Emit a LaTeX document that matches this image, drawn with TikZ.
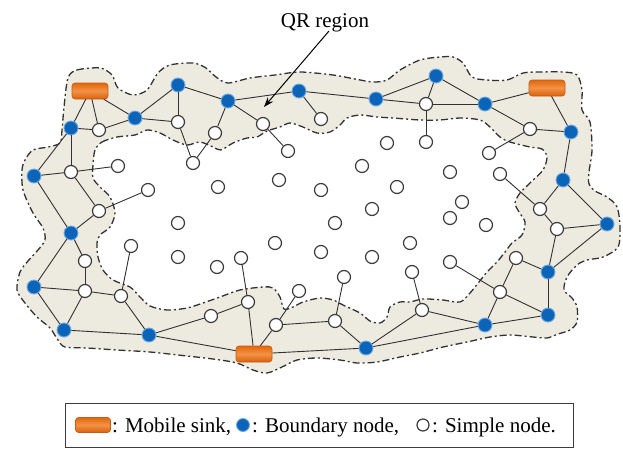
\documentclass[tikz,border=0pt]{standalone}
\usepackage{fontspec}
\setmainfont{Liberation Serif}
\usetikzlibrary{arrows.meta}
\definecolor{bandfill}{RGB}{237,234,223}
\definecolor{qrgray}{RGB}{50,50,50}
\definecolor{linkgray}{RGB}{50,50,50}
\definecolor{nodegray}{RGB}{60,60,60}
\definecolor{bnblue}{RGB}{12,100,184}
\definecolor{bnhalo}{RGB}{110,170,225}
\definecolor{sinktop}{RGB}{226,104,12}
\definecolor{sinkmid}{RGB}{243,146,70}
\definecolor{sinkbot}{RGB}{214,96,10}
\definecolor{sinkedge}{RGB}{200,90,20}
\tikzset{
  simple/.style={circle, draw=nodegray, line width=1.2pt, fill=white, minimum size=13pt, inner sep=0pt},
  boundary/.style={circle, fill=bnblue, draw=bnhalo, line width=0.9pt, minimum size=14pt, inner sep=0pt},
  sinknode/.style={rectangle, rounded corners=3pt, minimum width=36pt, minimum height=16pt, inner sep=0pt,
    draw=sinkedge, line width=0.6pt, top color=sinktop, bottom color=sinkbot, middle color=sinkmid},
  link/.style={draw=linkgray, line width=0.9pt},
  qrline/.style={draw=qrgray, line width=1.3pt, dash pattern=on 7pt off 3pt on 2pt off 3pt},
  txt/.style={inner sep=0pt, font=\fontsize{21}{25}\selectfont},
}
\begin{document}
\begin{tikzpicture}[x=1pt,y=-1pt]
\useasboundingbox (0,0) rectangle (623,450);

% QR band between the outer and inner borders
\def\outerpts{(68,78) (77,70) (100,68) (112,75) (118,88) (133,95) (147,90) (158,73) (170,65) (193,63) (206,68) (216,77) (228,83) (250,78) (275,75) (300,72) (333,75) (355,79) (373,82) (387,80) (400,70) (420,60) (440,57) (453,57) (463,63) (472,77) (487,80) (507,80) (523,73) (540,72) (563,72) (577,75) (582,90) (582,110) (590,122) (592,150) (589,172) (589,184) (595,191) (607,197) (617,207) (620,227) (618,247) (603,257) (587,260) (577,265) (567,277) (564,290) (572,298) (577,307) (577,322) (570,330) (558,334) (547,338) (533,337) (510,335) (490,337) (467,342) (443,347) (420,353) (400,357) (377,362) (357,363) (340,360) (317,358) (297,360) (282,367) (267,373) (253,370) (237,363) (213,359) (187,356) (150,352) (117,350) (87,348) (65,347) (58,340) (50,328) (37,317) (25,303) (17,290) (20,272) (28,261) (38,250) (45,240) (43,228) (33,213) (23,190) (22,170) (25,160) (33,150) (48,147) (60,143) (62,130) (64,107)}
\def\innerpts{(95,150) (102,142) (117,137) (135,135) (147,130) (160,133) (173,140) (187,145) (200,142) (213,147) (221,150) (233,143) (247,138) (257,137) (267,131) (280,127) (290,123) (303,127) (317,133) (330,132) (340,125) (347,118) (360,115) (377,117) (393,118) (420,120) (440,120) (460,118) (480,120) (490,127) (500,137) (510,142) (530,147) (542,149) (547,157) (543,170) (530,183) (520,193) (515,203) (519,212) (525,222) (522,235) (512,243) (505,252) (497,262) (487,272) (479,282) (470,293) (460,302) (443,300) (423,299) (410,302) (400,302) (390,307) (387,317) (380,323) (370,321) (360,313) (343,305) (333,300) (320,298) (303,302) (293,307) (284,309) (280,297) (273,288) (263,287) (240,290) (220,297) (203,303) (187,308) (167,310) (150,306) (140,297) (130,287) (113,280) (103,270) (98,257) (97,243) (100,235) (110,227) (115,213) (110,197) (100,187) (93,178) (93,165)}
\fill[bandfill, even odd rule] plot[smooth cycle] coordinates \outerpts plot[smooth cycle] coordinates \innerpts;
\draw[qrline] plot[smooth cycle] coordinates \outerpts;
\draw[qrline] plot[smooth cycle] coordinates \innerpts;

% mobile sinks
\node[sinknode] (s1) at (90,91) {};
\node[sinknode] (s2) at (547,88) {};
\node[sinknode] (s3) at (254,354) {};

% boundary nodes
\foreach \n/\p in {b1/{178,85}, b2/{228,101}, b3/{299,91}, b4/{376,99}, b5/{436,76}, b6/{485,104},
  b7/{571,132}, b8/{563,180}, b9/{607,224}, b10/{548,272}, b11/{548,315}, b12/{485,325},
  b13/{366,348}, b14/{149,335}, b15/{64,330}, b16/{34,287}, b17/{71,233}, b18/{34,176},
  b19/{71,128}, b20/{135,118}}
  \node[boundary] (\n) at (\p) {};

% simple nodes
\foreach \n/\p in {w1/{99,130}, w2/{178,122}, w3/{215,133}, w4/{263,124}, w5/{321,119}, w6/{426,104},
  w7/{530,129}, w8/{71,172}, w9/{118,166}, w10/{193,163}, w11/{288,151}, w12/{387,143},
  w13/{426,142}, w14/{362,166}, w15/{489,153}, w16/{450,172}, w17/{500,174}, w18/{148,190},
  w19/{218,187}, w20/{279,180}, w21/{321,190}, w22/{397,187}, w23/{99,211}, w24/{372,209},
  w25/{462,202}, w26/{540,209}, w27/{178,223}, w28/{335,223}, w29/{450,218}, w30/{486,225},
  w31/{557,229}, w32/{131,246}, w33/{275,243}, w34/{321,252}, w35/{410,243}, w36/{178,257},
  w37/{241,258}, w38/{372,257}, w39/{217,267}, w40/{85,261}, w41/{450,262}, w42/{516,258},
  w43/{412,272}, w44/{344,277}, w45/{85,291}, w46/{121,296}, w47/{299,291}, w48/{500,292},
  w49/{248,302}, w50/{211,316}, w51/{276,325}, w52/{335,321}, w53/{422,310}}
  \node[simple] (\n) at (\p) {};

% links
\foreach \a/\b in {s1/b19, s1/w1, s1/b20, b19/w1, w1/b20, b19/b18, b19/w8,
  b20/w2, b20/b1, b1/w2, b1/b2, w2/w10, b2/w3, w3/w10, b2/w4, b2/b3, w4/w11,
  b3/w5, b3/b4, b4/b5, b4/w6, b5/w6, b5/b6, w6/b6, w6/w13,
  b6/s2, b6/w7, w7/b7, w7/w15, s2/b7,
  b7/b8, b8/w26, b8/b9, w17/w26, w26/w31, w31/b9, w31/b10, b9/b10,
  w42/b10, w42/w48, w41/w48, w48/b12, w48/b11, b10/b11, b11/b12,
  b12/w53, b12/b13, b13/w53, w43/w53,
  b13/w52, b13/s3, w52/w44, w52/w51, w51/w47, w51/s3, s3/w49, w49/w37, w49/w50,
  s3/b14, b14/w50, b14/w46, b14/b15, w46/w45, w46/w32, b15/w45, b15/b16, b16/w45,
  w45/w40, w40/b17, b17/b16, b17/w23, w23/w18, w23/w8, w8/w9, b18/w8, b18/b17}
  \draw[link] (\a) -- (\b);

% label of the band
\node[txt, anchor=base] (qr) at (325,27) {QR region};
\coordinate (qrtail) at (329,31);
\coordinate (qrtip) at (264,107);
\draw[line width=1pt, -{Stealth[length=10pt,width=7pt]}] (qrtail) -- (qrtip);

% key
\node[draw=nodegray, line width=1pt, minimum width=508pt, minimum height=44pt, inner sep=0pt] (key) at (319,425) {};
\node[sinknode, minimum width=35pt, minimum height=15pt] (ksink) at (93,425) {};
\node[txt, anchor=base west] (kt1) at (112,432) {: Mobile sink,};
\node[boundary, minimum size=13pt] (kblue) at (243,425) {};
\node[txt, anchor=base west] (kt2) at (252,432) {: Boundary node,};
\node[simple, minimum size=12pt] (kwhite) at (423,425) {};
\node[txt, anchor=base west] (kt3) at (432,432) {: Simple node.};
\end{tikzpicture}
\end{document}
